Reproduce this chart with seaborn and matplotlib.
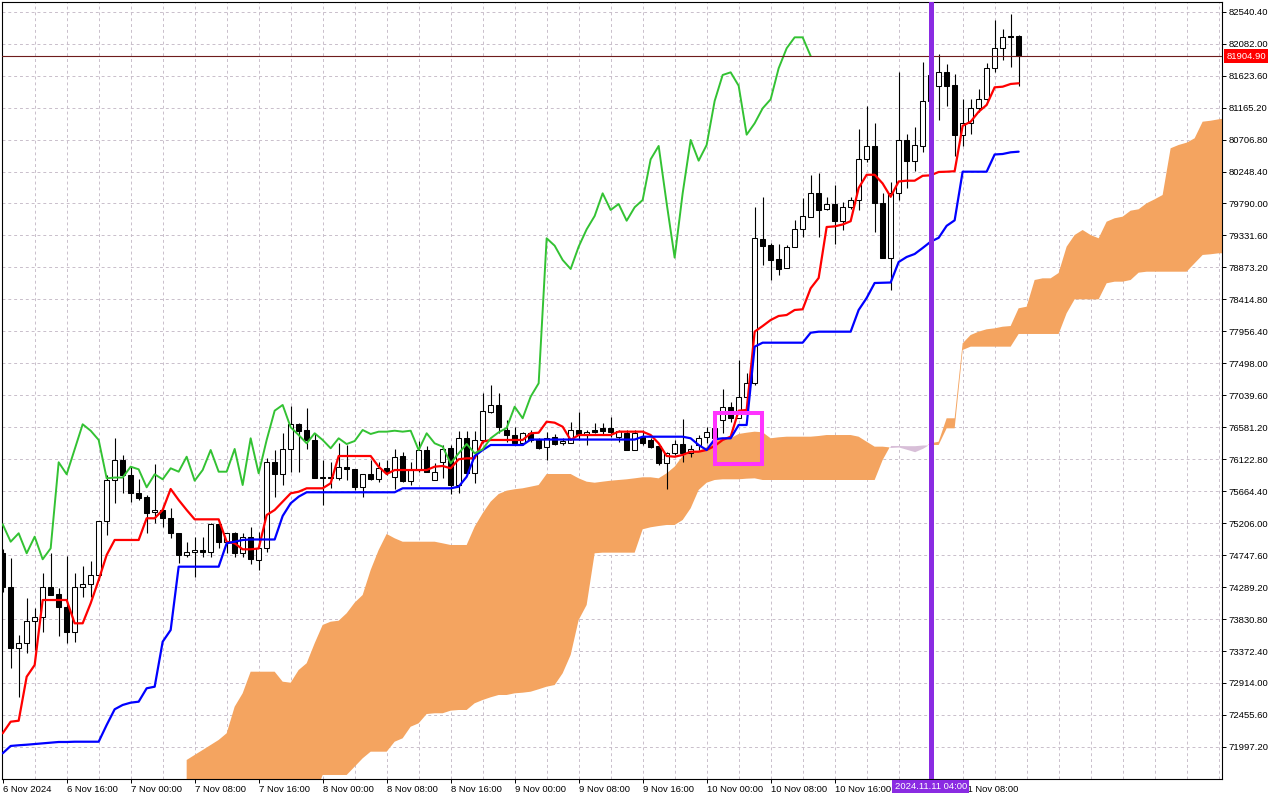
import numpy as np
import pandas as pd
import matplotlib
matplotlib.use("Agg")
import matplotlib.pyplot as plt
from matplotlib.patches import Rectangle
import seaborn as sns

# ---------------- data (BTC H1, 6 Nov 08:00 .. 11 Nov 15:00) ----------------
open_ = [74782, 74286, 73420, 73483, 73799, 73856, 74286, 74190, 74000, 73650,
         74286, 74329, 74463, 75237, 75825, 76112, 75897, 75634, 75577, 75362,
         75395, 75284, 75061, 74754, 74788, 74817, 74797, 75190, 74940, 75061,
         74774, 75012, 74678, 74846, 76079, 75907, 76265, 76624, 76542, 76399,
         75868, 75868, 75858, 76007, 75983, 75720, 75907, 75835, 76001, 75872,
         76169, 75815, 75968, 76255, 75825, 76079, 76280, 75753, 76423, 75921,
         76399, 76804, 76901, 76542, 76470, 76351, 76495, 76409, 76303, 76437,
         76351, 76360, 76542, 76485, 76542, 76566, 76566, 76446, 76495, 76255,
         76437, 76399, 76313, 76065, 76208, 76341, 76208, 76327, 76437, 76427,
         76685, 76876, 76710, 77020, 77212, 79277, 79195, 78990, 78861, 79171,
         79420, 79601, 79936, 79707, 79783, 79543, 79736, 79840, 80424, 80615,
         79802, 79013, 79936, 80701, 80404, 80619, 81260, 81479, 81671, 81489,
         80777, 80940, 81155, 81284, 81729, 82016, 82192, 82192]
high = [74836, 74702, 73602, 74129, 73990, 74487, 74774, 74272, 74735, 74496,
        74592, 74668, 75237, 75897, 76423, 76184, 76016, 75835, 75610, 76054,
        75467, 75419, 75069, 74936, 75012, 75012, 75204, 75190, 75061, 75084,
        75061, 75147, 75084, 76136, 76255, 76495, 76886, 76638, 76853, 76495,
        76112, 76087, 76351, 76327, 75983, 75907, 76112, 76087, 76112, 76265,
        76231, 76087, 76389, 76313, 76065, 76327, 76327, 76532, 76532, 76532,
        77068, 77187, 77077, 76685, 76589, 76518, 76542, 76423, 76518, 76485,
        76423, 76661, 76804, 76542, 76638, 76638, 76733, 76542, 76542, 76542,
        76542, 76423, 76313, 76231, 76399, 76695, 76327, 76470, 76589, 76628,
        77126, 76948, 77546, 77355, 79744, 79888, 79219, 79209, 79195, 79553,
        79865, 80199, 80223, 79888, 80055, 79816, 79888, 80854, 81188, 80940,
        79945, 80103, 81680, 80787, 80891, 81823, 81920, 81934, 81790, 81647,
        81284, 81284, 81428, 81809, 82421, 82292, 82507, 82200]
low = [74219, 73125, 72717, 73340, 73387, 73650, 74176, 73588, 73492, 73506,
       74152, 74152, 74391, 75036, 75500, 75643, 75514, 75538, 75061, 75213,
       75147, 74989, 74639, 74716, 74438, 74716, 74716, 74846, 74782, 74716,
       74716, 74620, 74534, 74792, 75586, 75753, 75944, 75944, 76265, 75849,
       75467, 75706, 75825, 75825, 75682, 75577, 75825, 75801, 75897, 75692,
       75801, 75753, 75944, 75944, 75825, 75849, 75624, 75634, 75911, 75786,
       76356, 76782, 76503, 76374, 76327, 76327, 76374, 76265, 76112, 76327,
       76327, 76351, 76399, 76327, 76495, 76470, 76446, 76374, 76255, 76255,
       76327, 76280, 76040, 75692, 76184, 76087, 76159, 76255, 76351, 76399,
       76495, 76661, 76710, 76829, 77187, 78908, 78693, 78765, 78861, 79162,
       79305, 79592, 79305, 79697, 79209, 79410, 79711, 79697, 80385, 79386,
       79004, 78550, 79840, 80008, 80260, 80533, 81203, 80987, 81188, 80471,
       80615, 80787, 81106, 81274, 81680, 81848, 81752, 81475]
close = [74286, 73420, 73483, 73799, 73856, 74286, 74176, 74000, 73650, 74286,
         74329, 74463, 75237, 75825, 76112, 75897, 75634, 75571, 75356, 75395,
         75284, 75061, 74754, 74788, 74817, 74797, 75190, 74940, 75061, 74774,
         75012, 74688, 74845, 76079, 75907, 76265, 76624, 76532, 76399, 75849,
         75860, 75860, 76016, 75978, 75720, 75907, 75835, 75993, 75944, 76159,
         75815, 75968, 76255, 75944, 75944, 76270, 75753, 76423, 75921, 76399,
         76819, 76901, 76581, 76470, 76351, 76495, 76399, 76280, 76423, 76341,
         76384, 76542, 76485, 76518, 76518, 76532, 76518, 76532, 76255, 76495,
         76351, 76303, 76065, 76208, 76341, 76208, 76265, 76423, 76509, 76571,
         76876, 76710, 77020, 77212, 79291, 79185, 78980, 78851, 79171, 79420,
         79611, 79936, 79697, 79783, 79543, 79736, 79840, 80424, 80615, 79793,
         79013, 79936, 80701, 80404, 80629, 81260, 81633, 81671, 81479, 80777,
         80940, 81155, 81284, 81729, 82016, 82173, 82173, 81904.9]

tenkan = [72193, 72359, 72373, 73004, 73172, 74104, 74104, 74104, 74104, 73770,
          73770, 74057, 74391, 74750, 74965, 74965, 74965, 74965, 75276, 75276,
          75395, 75696, 75538, 75395, 75261, 75261, 75261, 75261, 74940, 74917,
          74831, 74831, 74843, 75323, 75395, 75514, 75634, 75657, 75706, 75706,
          75706, 75778, 76169, 76169, 76169, 76169, 76169, 76016, 75911, 75968,
          75968, 75968, 75968, 75968, 76016, 76026, 75993, 76122, 76136, 76136,
          76374, 76399, 76399, 76399, 76399, 76399, 76495, 76503, 76661, 76647,
          76589, 76399, 76470, 76470, 76470, 76470, 76470, 76518, 76518, 76518,
          76518, 76470, 76351, 76169, 76159, 76184, 76231, 76231, 76255, 76313,
          76399, 76446, 76819, 76829, 77952, 78033, 78119, 78177, 78191, 78263,
          78273, 78574, 78722, 79453, 79462, 79489, 79536, 80012, 80202, 80202,
          80077, 79886, 80106, 80117, 80117, 80187, 80194, 80242, 80246, 80253,
          80904, 80963, 81106, 81203, 81456, 81465, 81504, 81514]
kijun = [71906, 72011, 72021, 72029, 72039, 72049, 72058, 72068, 72068, 72072,
         72072, 72072, 72072, 72312, 72537, 72599, 72632, 72646, 72838, 72861,
         73506, 73674, 74582, 74582, 74582, 74582, 74582, 74582, 74917, 74940,
         74965, 74972, 74972, 74972, 74972, 75309, 75491, 75586, 75649, 75649,
         75649, 75649, 75649, 75649, 75649, 75649, 75649, 75649, 75649, 75649,
         75706, 75706, 75706, 75706, 75706, 75706, 75706, 75729, 75872, 76169,
         76255, 76327, 76327, 76327, 76327, 76327, 76405, 76405, 76405, 76405,
         76405, 76405, 76405, 76405, 76405, 76405, 76405, 76405, 76405, 76405,
         76446, 76446, 76446, 76446, 76446, 76446, 76423, 76327, 76255, 76409,
         76423, 76423, 76614, 76614, 77737, 77794, 77794, 77794, 77794, 77794,
         77794, 77937, 77952, 77952, 77952, 77952, 77952, 78263, 78435, 78650,
         78654, 78657, 78951, 79023, 79066, 79152, 79242, 79298, 79470, 79549,
         80246, 80246, 80246, 80246, 80493, 80500, 80524, 80533]

# Senkou spans, already shifted 26 bars forward (bars 23 .. 153)
cloud_start = 23
span_a = [71810, 71882, 71953, 72025, 72097, 72193, 72574, 72766, 73076, 73076,
          73076, 73076, 72933, 72918, 73100, 73197, 73483, 73746, 73793, 73807,
          73914, 74066, 74176, 74534, 74821, 75051, 74989, 74940, 74940, 74940,
          74940, 74940, 74917, 74893, 74893, 74893, 75155, 75348, 75514, 75624,
          75672, 75692, 75706, 75729, 75753, 75911, 75911, 75911, 75911, 75849,
          75801, 75786, 75801, 75815, 75825, 75835, 75849, 75864, 75864, 75849,
          75921, 76016, 76169, 76217, 76245, 76294, 76399, 76423, 76423, 76485,
          76503, 76518, 76509, 76423, 76437, 76446, 76446, 76446, 76446, 76456,
          76470, 76470, 76470, 76470, 76446, 76374, 76303, 76303, 76291, 76298,
          76265, 76231, 76280, 76351, 76374, 76710, 76710, 77785, 77904, 77952,
          77986, 78000, 78023, 78033, 78287, 78310, 78693, 78717, 78717, 78793,
          79171, 79338, 79410, 79338, 79291, 79529, 79578, 79601, 79687, 79707,
          79793, 79850, 79912, 80582, 80629, 80662, 80725, 80963, 80977, 80997,
          81012]
span_b = [71300, 71300, 71300, 71300, 71300, 71300, 71300, 71300, 71300, 71300,
          71300, 71300, 71300, 71300, 71300, 71300, 71300, 71595, 71595, 71595,
          71595, 71714, 71834, 71929, 71929, 71929, 72072, 72121, 72287, 72336,
          72469, 72480, 72480, 72517, 72527, 72527, 72623, 72670, 72709, 72742,
          72742, 72766, 72775, 72789, 72824, 72861, 72885, 73053, 73316, 73817,
          74033, 74774, 74783, 74783, 74783, 74783, 74783, 75118, 75147, 75165,
          75180, 75180, 75251, 75419, 75682, 75786, 75825, 75835, 75835, 75835,
          75844, 75849, 75825, 75825, 75825, 75825, 75825, 75825, 75825, 75825,
          75825, 75825, 75825, 75825, 75825, 75825, 75825, 76112, 76320, 76320,
          76317, 76317, 76327, 76327, 76327, 76566, 76566, 77689, 77737, 77737,
          77737, 77737, 77737, 77737, 77919, 77919, 77919, 77919, 77919, 77919,
          78216, 78416, 78416, 78416, 78416, 78646, 78669, 78669, 78693, 78798,
          78812, 78812, 78812, 78812, 78812, 78812, 78933, 79052, 79062, 79076,
          79076]

chikou_shift = 26
price_ticks = [71997.2 + 458.4 * k for k in range(24)]
# the 11 Nov 00:00 label is hidden behind the time marker in the reference
time_labels = ["6 Nov 2024", "6 Nov 16:00", "7 Nov 00:00", "7 Nov 08:00",
               "7 Nov 16:00", "8 Nov 00:00", "8 Nov 08:00", "8 Nov 16:00",
               "9 Nov 00:00", "9 Nov 08:00", "9 Nov 16:00", "10 Nov 00:00",
               "10 Nov 08:00", "10 Nov 16:00", "", "11 Nov 08:00"]
last_price = 81904.90
marker_bar = 116
marker_label = "2024.11.11 04:00"

# ---------------- styling ----------------
sns.set_theme(style="white")
plt.rcParams['font.family'] = ['Liberation Sans', 'DejaVu Sans']

W, H = 1280, 800
fig = plt.figure(figsize=(W / 100, H / 100), dpi=100)
fig.patch.set_facecolor("white")
ax = fig.add_axes([2 / W, 21 / H, 1220 / W, 777 / H])
ax.set_facecolor("white")

n = len(close)
idx = np.arange(n)
o = np.array(open_, float); h = np.array(high, float)
l = np.array(low, float); c = np.array(close, float)

ax.set_xlim(-0.084, 152.42)
ax.set_ylim(71537.3, 82679.5)

grid_col = "#c9bfcb"
for gx in range(4, 153, 4):
    ax.axvline(gx, color=grid_col, lw=0.7, ls=(0, (3, 3)), zorder=0)
for gy in price_ticks:
    ax.axhline(gy, color=grid_col, lw=0.7, ls=(0, (3, 3)), zorder=0)

# cloud
cx = np.arange(cloud_start, cloud_start + len(span_a))
sa = np.array(span_a, float); sb = np.array(span_b, float)
ax.fill_between(cx, sa, sb, where=sa >= sb, interpolate=True,
                color="#F4A460", lw=0, zorder=1)
ax.fill_between(cx, sa, sb, where=sa < sb, interpolate=True,
                color="#D8BFD8", lw=0, zorder=1)

# candles
ax.vlines(idx, l, h, color="black", lw=0.8, zorder=3)
up = c >= o
body_bottom = np.minimum(o, c)
body_h = np.maximum(np.abs(c - o), 8)
ax.bar(idx[up], body_h[up], bottom=body_bottom[up], width=0.62,
       color="white", edgecolor="black", linewidth=0.75, zorder=3.5)
ax.bar(idx[~up], body_h[~up], bottom=body_bottom[~up], width=0.62,
       color="black", edgecolor="black", linewidth=0.75, zorder=3.5)

# Ichimoku lines
df = pd.DataFrame({"bar": idx, "tenkan": tenkan, "kijun": kijun})
sns.lineplot(data=df, x="bar", y="tenkan", color="#FF0000", lw=1.6,
             estimator=None, sort=False, legend=False, ax=ax, zorder=4)
sns.lineplot(data=df, x="bar", y="kijun", color="#0000FF", lw=1.6,
             estimator=None, sort=False, legend=False, ax=ax, zorder=4)
dch = pd.DataFrame({"bar": idx[:n - chikou_shift], "chikou": c[chikou_shift:]})
sns.lineplot(data=dch, x="bar", y="chikou", color="#33C233", lw=1.4,
             estimator=None, sort=False, legend=False, ax=ax, zorder=4)

# current price line
ax.axhline(last_price, color="#6e1c1c", lw=0.8, zorder=4.5)

# highlight box and vertical marker
ax.add_patch(Rectangle((89.0, 76057), 5.9, 724, fill=False,
                       edgecolor="#FF33FF", lw=2.9, zorder=6))
ax.axvline(marker_bar, color="#8A2BE2", lw=3.6, zorder=7)

# axes
for s in ax.spines.values():
    s.set_color("black"); s.set_linewidth(0.8)
ax.set_xlabel(""); ax.set_ylabel("")
ax.yaxis.tick_right()
ax.set_yticks(price_ticks)
ax.set_yticklabels([f"{v:.2f}" for v in price_ticks])
ax.tick_params(axis="y", which="major", direction="out", length=3, width=0.7,
               colors="black", labelsize=6.8, pad=2, right=True, left=False)
ax.set_xticks(list(range(0, 8 * len(time_labels), 8)))
ax.set_xticklabels(time_labels, ha="left")
ax.tick_params(axis="x", which="major", direction="out", length=3, width=0.7,
               colors="black", labelsize=6.8, pad=1.5, bottom=True)

ax.annotate(f"{last_price:.2f}", xy=(1, last_price),
            xycoords=("axes fraction", "data"), xytext=(3.2, 0),
            textcoords="offset points", ha="left", va="center",
            color="white", fontsize=6.8, zorder=10, annotation_clip=False,
            bbox=dict(boxstyle="square,pad=0.25", fc="#FF0000", ec="none"))
ax.annotate(marker_label, xy=(marker_bar, 0),
            xycoords=("data", "axes fraction"), xytext=(0, -2.2),
            textcoords="offset points", ha="center", va="top",
            color="white", fontsize=6.8, zorder=10, annotation_clip=False,
            bbox=dict(boxstyle="square,pad=0.25", fc="#8A2BE2", ec="none"))

fig.savefig("out.png", dpi=100, facecolor="white")
